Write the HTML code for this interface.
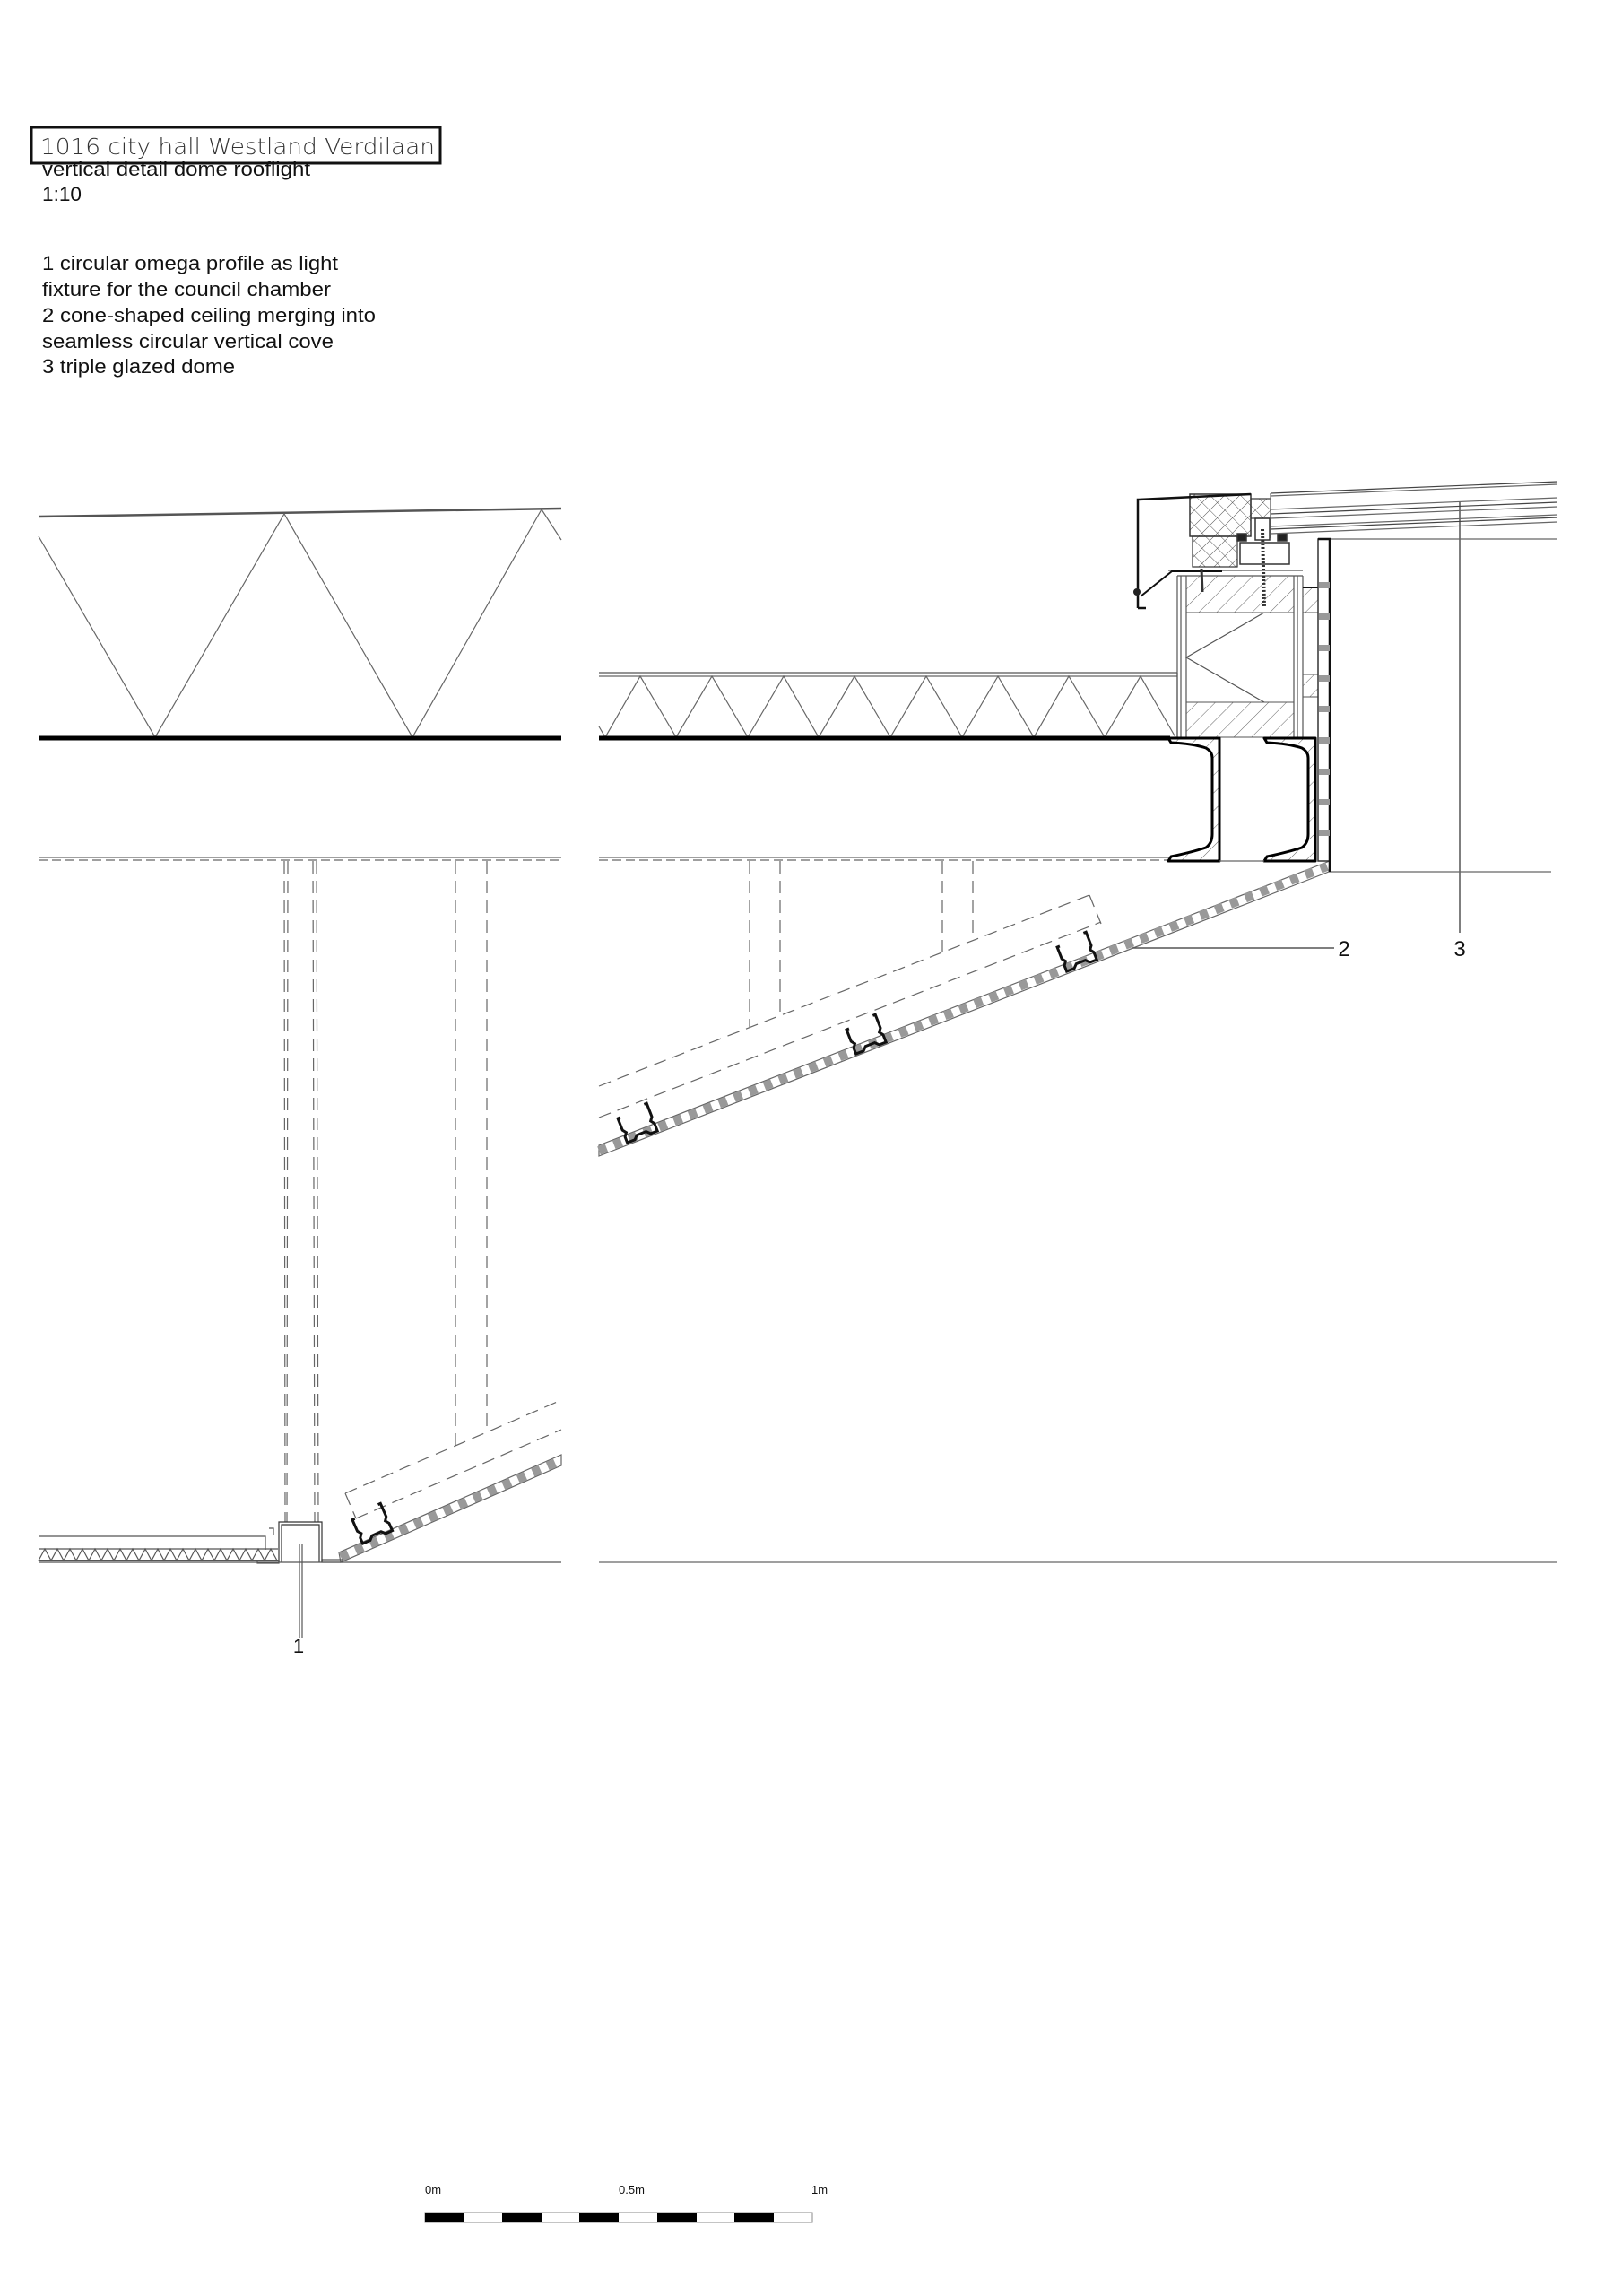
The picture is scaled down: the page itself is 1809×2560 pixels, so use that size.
<!DOCTYPE html>
<html><head><meta charset="utf-8"><style>
html,body{margin:0;padding:0;background:#fff;}
svg{display:block;}
text{font-family:"Liberation Sans",Arial,sans-serif;fill:#111;}
</style></head><body>
<svg width="1809" height="2560" viewBox="0 0 1809 2560" xmlns="http://www.w3.org/2000/svg">
<defs>
<pattern id="diag" width="14" height="14" patternUnits="userSpaceOnUse" patternTransform="rotate(45)">
<line x1="0" y1="0" x2="0" y2="14" stroke="#666" stroke-width="1"/></pattern>
<pattern id="cross" width="12" height="12" patternUnits="userSpaceOnUse" patternTransform="rotate(45)">
<line x1="0" y1="0" x2="0" y2="12" stroke="#555" stroke-width="1"/><line x1="0" y1="0" x2="12" y2="0" stroke="#555" stroke-width="1"/></pattern>
<g id="clip">
<path d="M3,-30 L0,-30 L0,-16 L3,-12 L0,-8 L0,-1 L9,-1 L13,-5 L24,-5 L28,-1 L36,-1 L36,-10 L33,-14 L36,-18 L36,-34 L33,-34" fill="none" stroke="#111" stroke-width="3"/>
</g>
</defs>

<!-- Title block -->
<rect x="35" y="142" width="456" height="40" fill="none" stroke="#111" stroke-width="3"/>
<text x="45" y="172" font-size="25" textLength="440" lengthAdjust="spacingAndGlyphs" style="font-family:'DejaVu Sans',sans-serif;font-weight:200;fill:#333">1016 city hall Westland Verdilaan</text>
<text x="47" y="196" font-size="22" textLength="299" lengthAdjust="spacingAndGlyphs">vertical detail dome rooflight</text>
<text x="47" y="224" font-size="22" textLength="44" lengthAdjust="spacingAndGlyphs">1:10</text>
<text x="47" y="301" font-size="22" textLength="330" lengthAdjust="spacingAndGlyphs">1 circular omega profile as light</text>
<text x="47" y="330" font-size="22" textLength="322" lengthAdjust="spacingAndGlyphs">fixture for the council chamber</text>
<text x="47" y="359" font-size="22" textLength="372" lengthAdjust="spacingAndGlyphs">2 cone-shaped ceiling merging into</text>
<text x="47" y="388" font-size="22" textLength="325" lengthAdjust="spacingAndGlyphs">seamless circular vertical cove</text>
<text x="47" y="416" font-size="22" textLength="215" lengthAdjust="spacingAndGlyphs">3 triple glazed dome</text>

<!-- ===== LEFT PANEL ===== -->
<g fill="none" stroke="#666" stroke-width="1.2">
<line x1="43" y1="576" x2="626" y2="567" stroke="#555" stroke-width="2.5"/>
<polyline points="43,598 173,822 317,573 460,822 604,568 626,602"/>
<line x1="43" y1="956" x2="626" y2="956"/>
<line x1="43" y1="959" x2="626" y2="959" stroke-dasharray="10 5"/>
</g>
<line x1="43" y1="823" x2="626" y2="823" stroke="#000" stroke-width="5"/>
<g fill="none" stroke="#666" stroke-width="1.2" stroke-dasharray="14 8">
<line x1="317" y1="960" x2="318" y2="1697"/><line x1="321" y1="960" x2="320" y2="1697"/>
<line x1="349" y1="960" x2="351" y2="1697"/><line x1="353" y1="960" x2="355" y2="1697"/>
<line x1="508" y1="960" x2="508" y2="1614"/><line x1="543" y1="960" x2="543" y2="1598"/>
<line x1="385" y1="1665" x2="626" y2="1561"/>
<line x1="397" y1="1693" x2="626" y2="1594"/>
<line x1="385" y1="1665" x2="397" y2="1693"/>
</g>
<!-- left ceiling band -->
<polygon points="380,1742 626,1634 626,1622 378,1731" fill="#fff" stroke="#666" stroke-width="1.2"/>
<line x1="380" y1="1736" x2="626" y2="1628" stroke="#999" stroke-width="10" stroke-dasharray="9 9"/>
<use href="#clip" transform="translate(405,1722) rotate(-23.7)"/>
<!-- floor -->
<g fill="none" stroke="#555" stroke-width="1.2">
<polyline points="43,1713 296,1713 296,1728"/>
<line x1="43" y1="1727" x2="310" y2="1727"/>
<line x1="43" y1="1740" x2="310" y2="1740" stroke-width="2"/>
<polyline points="43,1740 50,1727 57,1740 64,1727 71,1740 78,1727 85,1740 92,1727 99,1740 106,1727 113,1740 120,1727 127,1740 134,1727 141,1740 148,1727 155,1740 162,1727 169,1740 176,1727 183,1740 190,1727 197,1740 204,1727 211,1740 218,1727 225,1740 232,1727 239,1740 246,1727 253,1740 260,1727 267,1740 274,1727 281,1740 288,1727 295,1740 302,1727 309,1740"/>
<rect x="287" y="1740" width="24" height="3"/>
<rect x="359" y="1739" width="23" height="3"/>
<path d="M311,1742 V1697 H359 V1742 M314,1742 V1700 H356 V1742" stroke="#333"/>
<path d="M300,1704 H305 V1712"/>
<line x1="43" y1="1742" x2="626" y2="1742"/>
<line x1="334" y1="1722" x2="334" y2="1826"/><line x1="337" y1="1722" x2="337" y2="1826"/>
</g>
<text x="333" y="1843" font-size="22" text-anchor="middle">1</text>

<!-- ===== RIGHT PANEL ===== -->
<g fill="none" stroke="#666" stroke-width="1.2">
<line x1="668" y1="750" x2="1313" y2="750" stroke="#555"/>
<line x1="668" y1="754" x2="1313" y2="754"/>
<polyline points="668,810 675,822 714,754 754,822 794,754 834,822 874,754 913,822 953,754 993,822 1033,754 1073,822 1113,754 1153,822 1192,754 1232,822 1272,754 1311,822"/>
<line x1="668" y1="956" x2="1303" y2="956"/>
<line x1="668" y1="959" x2="1303" y2="959" stroke-dasharray="10 5"/>
<line x1="668" y1="1742" x2="1737" y2="1742"/>
</g>
<line x1="668" y1="823" x2="1305" y2="823" stroke="#000" stroke-width="5"/>
<g fill="none" stroke="#666" stroke-width="1.2" stroke-dasharray="14 8">
<line x1="836" y1="960" x2="836" y2="1145"/>
<line x1="870" y1="960" x2="870" y2="1132"/>
<line x1="1051" y1="960" x2="1051" y2="1062"/>
<line x1="1085" y1="960" x2="1085" y2="1048"/>
<line x1="668" y1="1211" x2="1215" y2="998"/>
<line x1="668" y1="1246" x2="1228" y2="1028"/>
<line x1="1215" y1="998" x2="1228" y2="1030"/>
</g>
<!-- ceiling band right -->
<polygon points="668,1289 1482,972 1483,960 668,1277" fill="#fff" stroke="#666" stroke-width="1.2"/>
<line x1="668" y1="1283" x2="1480" y2="966" stroke="#999" stroke-width="10" stroke-dasharray="9 9"/>
<use href="#clip" transform="translate(700,1275) rotate(-21.3)"/>
<use href="#clip" transform="translate(955,1176) rotate(-21.3)"/>
<use href="#clip" transform="translate(1190,1084) rotate(-21.3)"/>
<!-- labels 2 / 3 -->
<line x1="1262" y1="1057" x2="1488" y2="1057" stroke="#555" stroke-width="1.5"/>
<text x="1499" y="1066" font-size="24" text-anchor="middle">2</text>
<line x1="1628" y1="560" x2="1628" y2="1040" stroke="#555" stroke-width="1.5"/>
<text x="1628" y="1066" font-size="24" text-anchor="middle">3</text>
<line x1="1483" y1="601" x2="1737" y2="601" stroke="#666" stroke-width="1.2"/>
<line x1="1482" y1="972" x2="1730" y2="972" stroke="#666" stroke-width="1.2"/>

<!-- curb -->
<rect x="1323" y="642" width="120" height="41" fill="url(#diag)" stroke="#555"/>
<rect x="1323" y="783" width="120" height="39" fill="url(#diag)" stroke="#555"/>
<g fill="none" stroke="#555" stroke-width="1.2">
<line x1="1313" y1="642" x2="1313" y2="822"/><line x1="1317" y1="642" x2="1317" y2="822"/><line x1="1323" y1="642" x2="1323" y2="822"/>
<line x1="1443" y1="642" x2="1443" y2="822"/><line x1="1447" y1="642" x2="1447" y2="822"/><line x1="1453" y1="642" x2="1453" y2="822"/>
<line x1="1313" y1="642" x2="1453" y2="642"/>
<polyline points="1410,683 1323,733 1410,783"/>
<line x1="1313" y1="750" x2="1313" y2="822"/>
<line x1="1303" y1="636" x2="1453" y2="636"/>
</g>
<rect x="1453" y="655" width="17" height="28" fill="url(#diag)" stroke="#555"/>
<rect x="1453" y="752" width="17" height="25" fill="url(#diag)" stroke="#555"/>
<line x1="1453" y1="655" x2="1470" y2="655" stroke="#111" stroke-width="2"/>
<!-- upstand -->
<rect x="1470" y="601" width="13" height="359" fill="#fff" stroke="#333" stroke-width="1.5"/>
<path d="M1470,601 H1483 V972" fill="none" stroke="#111" stroke-width="2.5"/>
<g fill="#999">
<rect x="1471" y="649" width="12" height="7"/><rect x="1471" y="684" width="12" height="7"/><rect x="1471" y="719" width="12" height="7"/>
<rect x="1471" y="753" width="12" height="7"/><rect x="1471" y="787" width="12" height="7"/><rect x="1471" y="822" width="12" height="7"/>
<rect x="1471" y="857" width="12" height="7"/><rect x="1471" y="891" width="12" height="7"/><rect x="1471" y="925" width="12" height="7"/>
</g>
<!-- C channels -->
<g fill="url(#diag)" stroke="#000" stroke-width="3" stroke-linejoin="round">
<path d="M1303,823 H1360 V960 H1303 L1306,955 Q1330,950 1345,945 Q1352,940 1352,930 V845 Q1352,838 1345,834 Q1330,829 1306,828 Z"/>
<path d="M1410,823 H1467 V960 H1410 L1413,955 Q1437,950 1452,945 Q1459,940 1459,930 V845 Q1459,838 1452,834 Q1437,829 1413,828 Z"/>
</g>
<line x1="1360" y1="960" x2="1410" y2="960" stroke="#666" stroke-width="1.2"/>

<!-- frame top -->
<rect x="1327" y="551" width="68" height="47" fill="url(#cross)" stroke="#333" stroke-width="1.5"/>
<rect x="1330" y="598" width="50" height="34" fill="url(#cross)" stroke="#333" stroke-width="1.2"/>
<rect x="1395" y="556" width="22" height="22" fill="url(#cross)" stroke="#333" stroke-width="1.2"/>
<path d="M1269,678 V557 L1395,551" fill="none" stroke="#111" stroke-width="2.5"/>
<path d="M1269,678 H1278" fill="none" stroke="#111" stroke-width="2.5"/>
<path d="M1272,665 L1307,637 H1363" fill="none" stroke="#111" stroke-width="2"/>
<circle cx="1268" cy="660" r="4" fill="#222"/>
<g fill="none" stroke="#333" stroke-width="1.5">
<rect x="1383" y="605" width="55" height="24"/>
<rect x="1400" y="578" width="16" height="24"/>
<rect x="1380" y="595" width="10" height="8" fill="#222"/>
<rect x="1425" y="595" width="10" height="8" fill="#222"/>
</g>
<line x1="1408" y1="590" x2="1410" y2="676" stroke="#333" stroke-width="4" stroke-dasharray="2 2"/>
<line x1="1340" y1="634" x2="1341" y2="660" stroke="#333" stroke-width="3"/>
<!-- glazing -->
<g fill="none" stroke="#666" stroke-width="1.2">
<line x1="1417" y1="550" x2="1737" y2="537" stroke="#444"/>
<line x1="1417" y1="553" x2="1737" y2="540"/>
<line x1="1417" y1="568" x2="1737" y2="555"/>
<line x1="1417" y1="573" x2="1737" y2="560" stroke="#444"/>
<line x1="1417" y1="578" x2="1737" y2="565"/>
<line x1="1417" y1="587" x2="1737" y2="574"/>
<line x1="1417" y1="590" x2="1737" y2="577" stroke="#444"/>
<line x1="1417" y1="595" x2="1737" y2="582"/>
<line x1="1417" y1="550" x2="1417" y2="600"/>
</g>

<!-- scale bar -->
<text x="474" y="2446" font-size="13">0m</text>
<text x="690" y="2446" font-size="13">0.5m</text>
<text x="905" y="2446" font-size="13">1m</text>
<rect x="474" y="2467" width="432" height="11" fill="#fff" stroke="#888" stroke-width="1"/>
<g fill="#000">
<rect x="474" y="2467" width="44" height="11"/><rect x="560" y="2467" width="44" height="11"/>
<rect x="646" y="2467" width="44" height="11"/><rect x="733" y="2467" width="44" height="11"/>
<rect x="819" y="2467" width="44" height="11"/>
</g>
</svg>
</body></html>
